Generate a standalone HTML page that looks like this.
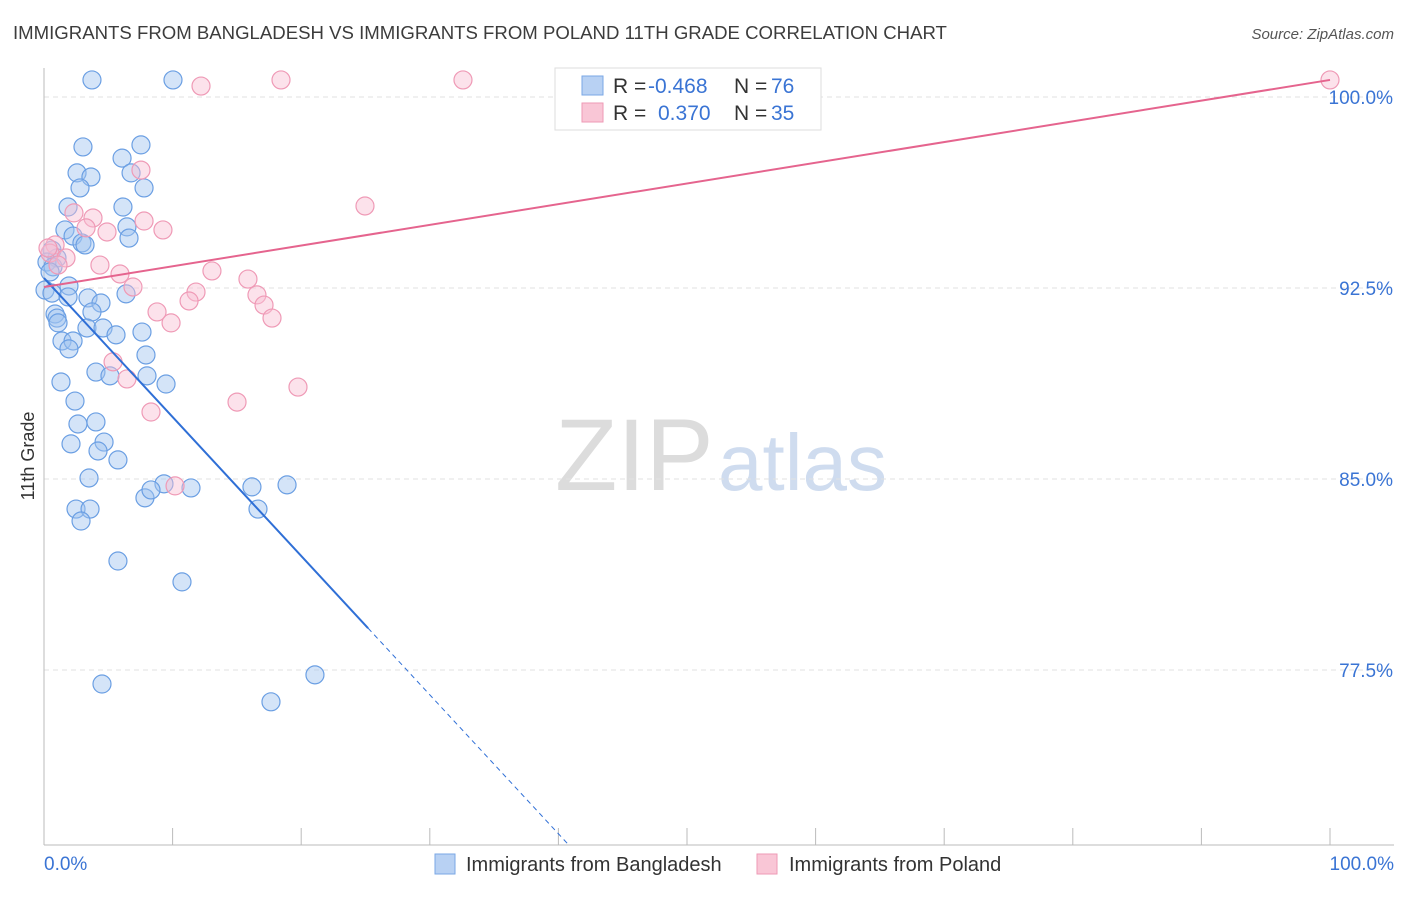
<!DOCTYPE html>
<html><head><meta charset="utf-8"><style>
body{margin:0;background:#fff;font-family:"Liberation Sans",sans-serif;}
svg text{font-family:"Liberation Sans",sans-serif;}
</style></head><body>
<svg id="chart" width="1406" height="892" xmlns="http://www.w3.org/2000/svg">
<text x="13" y="39" font-size="18.6" fill="#3c3c3c">IMMIGRANTS FROM BANGLADESH VS IMMIGRANTS FROM POLAND 11TH GRADE CORRELATION CHART</text>
<text x="1394" y="39" font-size="15" fill="#555" font-style="italic" text-anchor="end">Source: ZipAtlas.com</text>
<g>
<text x="555" y="490" font-size="102" fill="#dcdcdc" font-family="Liberation Serif,serif">ZIP</text>
<text x="718" y="490" font-size="80" fill="#cfdcef">atlas</text>
</g>
<g id="grid"></g>
<g id="axes"></g>
<g id="marks"></g>
<g>
<rect x="555" y="68" width="266" height="62" fill="#fff" stroke="#ddd"/>
<rect x="582" y="76" width="21" height="19" fill="#b8d1f3" stroke="#7aa7e6"/>
<rect x="582" y="103" width="21" height="19" fill="#f9c6d6" stroke="#ee9ab5"/>
<text x="613" y="93" font-size="21" fill="#333">R =</text>
<text x="648" y="93" font-size="21" fill="#3a74d4">-0.468</text>
<text x="734" y="93" font-size="21" fill="#333">N =</text>
<text x="771" y="93" font-size="21" fill="#3a74d4">76</text>
<text x="613" y="120" font-size="21" fill="#333">R =</text>
<text x="658" y="120" font-size="21" fill="#3a74d4">0.370</text>
<text x="734" y="120" font-size="21" fill="#333">N =</text>
<text x="771" y="120" font-size="21" fill="#3a74d4">35</text>
</g>
<g>
<rect x="435" y="854" width="20" height="20" fill="#b8d1f3" stroke="#7aa7e6"/>
<text x="466" y="871" font-size="20" fill="#333">Immigrants from Bangladesh</text>
<rect x="757" y="854" width="20" height="20" fill="#f9c6d6" stroke="#ee9ab5"/>
<text x="789" y="871" font-size="20" fill="#333">Immigrants from Poland</text>
</g>
<text transform="translate(34,456) rotate(-90)" font-size="18" fill="#333" text-anchor="middle">11th Grade</text>
</svg>
<script>
const blueX=[3.73,10.03,3.03,7.54,6.07,2.57,3.65,6.77,2.80,7.78,1.87,6.14,1.63,6.45,2.26,6.61,2.95,3.19,0.62,1.01,0.23,0.70,0.47,0.08,0.62,1.94,1.87,3.42,4.43,6.38,0.86,1.01,1.09,3.73,3.34,4.59,5.60,7.62,1.40,2.26,1.94,7.93,4.04,5.13,8.01,9.49,1.32,2.41,2.64,4.04,4.67,2.10,4.20,5.75,3.50,9.33,7.85,8.32,11.43,16.17,18.90,2.49,3.58,2.88,16.64,5.75,10.73,4.51,17.65,21.07];
const blueY=[100.67,100.67,98.04,98.12,97.60,97.02,96.86,97.02,96.43,96.43,95.68,95.68,94.78,94.90,94.54,94.46,94.27,94.19,93.99,93.68,93.52,93.33,93.13,92.42,92.30,92.58,92.15,92.11,91.91,92.27,91.48,91.32,91.13,91.56,90.93,90.93,90.66,90.77,90.42,90.42,90.11,89.87,89.20,89.05,89.05,88.73,88.81,88.06,87.16,87.24,86.45,86.38,86.10,85.75,85.04,84.81,84.26,84.57,84.65,84.69,84.77,83.82,83.82,83.35,83.82,81.78,80.96,76.95,76.25,77.31];
const pinkX=[12.21,18.43,32.58,100,7.54,24.96,2.33,3.81,7.78,9.25,4.90,3.27,0.86,0.47,1.71,1.09,4.35,5.91,13.06,15.86,6.92,11.82,11.28,16.56,17.11,8.79,9.88,17.73,5.37,6.45,19.75,15.01,8.32,10.19,0.31];
const pinkY=[100.43,100.67,100.67,100.67,97.13,95.72,95.45,95.25,95.13,94.78,94.70,94.86,94.19,93.87,93.68,93.40,93.40,93.05,93.17,92.85,92.54,92.34,91.99,92.23,91.83,91.56,91.13,91.32,89.60,88.93,88.61,88.02,87.63,84.73,94.07];
const yTicks=[100,92.5,85,77.5];
const yTickLabels=["100.0%","92.5%","85.0%","77.5%"];
const xTickLabels=["0.0%","100.0%"];
const blueTrend=[92.89,-0.5455,25.2];
const pinkTrend=[92.54,0.0813];

const NS="http://www.w3.org/2000/svg";
const X0=44,X1=1330,YTOP=97,YSTEP=191/7.5,YBOT=845;
const sx=v=>X0+(X1-X0)*v/100;
const sy=v=>YTOP+(100-v)*YSTEP;
const yv=py=>100-(py-YTOP)/YSTEP;
function mk(tag,parent,attrs){const e=document.createElementNS(NS,tag);for(const k in attrs)e.setAttribute(k,attrs[k]);document.getElementById(parent).appendChild(e);return e;}
yTicks.forEach((t,i)=>{
 const l=mk('line','grid',{x1:X0,x2:1394,y1:sy(t),y2:sy(t),stroke:'#e2e2e2','stroke-dasharray':'5,4'});
 
 
 const tx=mk('text','axes',{x:1393,y:sy(t)+7,'font-size':19,fill:'#3a74d4','text-anchor':'end'});
 tx.textContent=yTickLabels[i];
 
 
});
let ax=mk('line','axes',{x1:X0,x2:X0,y1:68,y2:YBOT,stroke:'#bbb'});


ax=mk('line','axes',{x1:X0,x2:1394,y1:YBOT,y2:YBOT,stroke:'#bbb'});


for(let i=0;i<=10;i++){
 const t=mk('line','axes',{x1:sx(i*10),x2:sx(i*10),y1:828,y2:YBOT,stroke:'#bbb'});
 
 
}
let xl=mk('text','axes',{x:44,y:870,'font-size':19,fill:'#3a74d4'});xl.textContent=xTickLabels[0];


xl=mk('text','axes',{x:1394,y:870,'font-size':19,fill:'#3a74d4','text-anchor':'end'});xl.textContent=xTickLabels[1];


blueX.forEach((x,i)=>{
 const c=mk('circle','marks',{cx:sx(x),cy:sy(blueY[i]),r:9,fill:'rgba(160,196,240,0.45)',stroke:'#6b9fe3','stroke-width':1.2});
 
 
});
pinkX.forEach((x,i)=>{
 const c=mk('circle','marks',{cx:sx(x),cy:sy(pinkY[i]),r:9,fill:'rgba(248,190,210,0.45)',stroke:'#ef9ab6','stroke-width':1.2});
 
 
});
const bEnd=blueTrend[2],bAt=x=>blueTrend[0]+blueTrend[1]*x;
let tl=mk('line','marks',{x1:sx(0),y1:sy(bAt(0)),x2:sx(bEnd),y2:sy(bAt(bEnd)),stroke:'#2f6fd6','stroke-width':2});


const yb=yv(YBOT),xb=(yb-blueTrend[0])/blueTrend[1];
tl=mk('line','marks',{x1:sx(bEnd),y1:sy(bAt(bEnd)),x2:sx(xb),y2:YBOT,stroke:'#2f6fd6','stroke-width':1,'stroke-dasharray':'5,4'});


tl=mk('line','marks',{x1:sx(0),y1:sy(pinkTrend[0]),x2:sx(100),y2:sy(pinkTrend[0]+pinkTrend[1]*100),stroke:'#e5648e','stroke-width':2});


</script>
</body></html>
